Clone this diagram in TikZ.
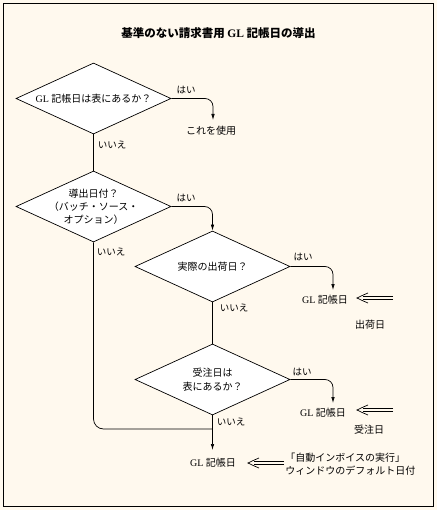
\documentclass[tikz,border=0pt]{standalone}
\usepackage{fontspec}
\setmainfont{Liberation Serif}
\newfontfamily\jp{Noto Sans CJK JP}
\usetikzlibrary{shapes.geometric,arrows.meta}
\definecolor{bgcream}{HTML}{FFF9EE}
\newcommand\GL{{\rmfamily GL}}
\newcommand\dblarr[2]{%
  \draw[dblline] ([yshift=1.8pt]#1) -- ([yshift=1.8pt,xshift=6pt]#2);
  \draw[dblline] ([yshift=-1.8pt]#1) -- ([yshift=-1.8pt,xshift=6pt]#2);
  \draw[dblline] ([xshift=11pt,yshift=5pt]#2) .. controls ([xshift=4pt,yshift=2pt]#2) .. (#2)
     .. controls ([xshift=4pt,yshift=-2pt]#2) .. ([xshift=11pt,yshift=-5pt]#2);
}
\tikzset{
  dia/.style={diamond, draw, fill=white, inner sep=0pt, minimum width=155pt, minimum height=71pt},
  txt/.style={font=\jp\fontsize{10}{13}\selectfont, align=center, inner sep=1pt},
  lbl/.style={font=\jp\fontsize{9.5}{12}\selectfont, inner sep=1pt},
  arr/.style={-{Latex[length=6pt,width=3.5pt]}, rounded corners=8pt},
  dblline/.style={line width=0.7pt},
  ttl/.style={font=\jp\bfseries\fontsize{11.5}{14}\selectfont, inner sep=1pt}
}
\begin{document}
\begin{tikzpicture}[x=1pt,y=-1pt,line width=0.7pt]
\fill[bgcream] (0,0) rectangle (437,510);
\useasboundingbox (0,0) rectangle (437,510);
\draw[line width=1.3pt] (3.5,3.5) rectangle (433.5,506.5);
\node[ttl] (title) at (218.5,33) {基準のない請求書用 {\rmfamily\bfseries GL} 記帳日の導出};
% diamonds
\node[dia] (d1) at (93.5,98.5) {};
\node[txt] (t1) at (d1) {\GL\ 記帳日は表にあるか？};
\node[dia] (d2) at (93.5,206.5) {};
\node[txt] (t2) at (d2) {導出日付？\\（バッチ・ソース・\\オプション）};
\node[dia] (d3) at (212.5,266.5) {};
\node[txt] (t3) at (d3) {実際の出荷日？};
\node[dia] (d4) at (212.5,379.5) {};
\node[txt, font=\jp\fontsize{10}{14}\selectfont] (t4) at (d4) {受注日は\\表にあるか？};
% result nodes
\node[txt] (use) at (211,131) {これを使用};
\node[txt] (gl1) at (325,300) {\GL\ 記帳日};
\node[txt] (gl2) at (323,413) {\GL\ 記帳日};
\node[txt] (gl3) at (213,463) {\GL\ 記帳日};
\node[txt] (n1) at (370,325) {出荷日};
\node[txt] (n2) at (369,430) {受注日};
\node[txt, align=left, anchor=west] (n3) at (284,464) {「自動インボイスの実行」\\ウィンドウのデフォルト日付};
% arrow end points
\coordinate (u) at (213,120);
\coordinate (a1) at (333,290);
\coordinate (a2) at (333,403);
\coordinate (a3) at (212.5,450);
\coordinate (j) at (212.5,429);
\coordinate (s1) at (393,298);
\coordinate (e1) at (357,298);
\coordinate (s2) at (393,410);
\coordinate (e2) at (357,410);
\coordinate (s3) at (284,463);
\coordinate (e3) at (248,463);
% connectors
\draw (d1.south) -- (d2.north);
\draw (d3.south) -- (d4.north);
\draw[arr] (d1.east) -| (u);
\draw[arr] (d2.east) -| (d3.north);
\draw[arr] (d3.east) -| (a1);
\draw[arr] (d4.east) -| (a2);
\draw[arr] (d4.south) -- (a3);
\draw[rounded corners=10pt] (d2.south) |- (j);
\dblarr{s1}{e1}
\dblarr{s2}{e2}
\dblarr{s3}{e3}
% labels
\node[lbl] (y1) at (186,90) {はい};
\node[lbl] (n1l) at (112,145) {いいえ};
\node[lbl] (y2) at (186,198) {はい};
\node[lbl] (n2l) at (111,252) {いいえ};
\node[lbl] (y3) at (303,257) {はい};
\node[lbl] (n3l) at (234,308) {いいえ};
\node[lbl] (y4) at (302,372) {はい};
\node[lbl] (n4l) at (231,422) {いいえ};
\end{tikzpicture}
\end{document}
